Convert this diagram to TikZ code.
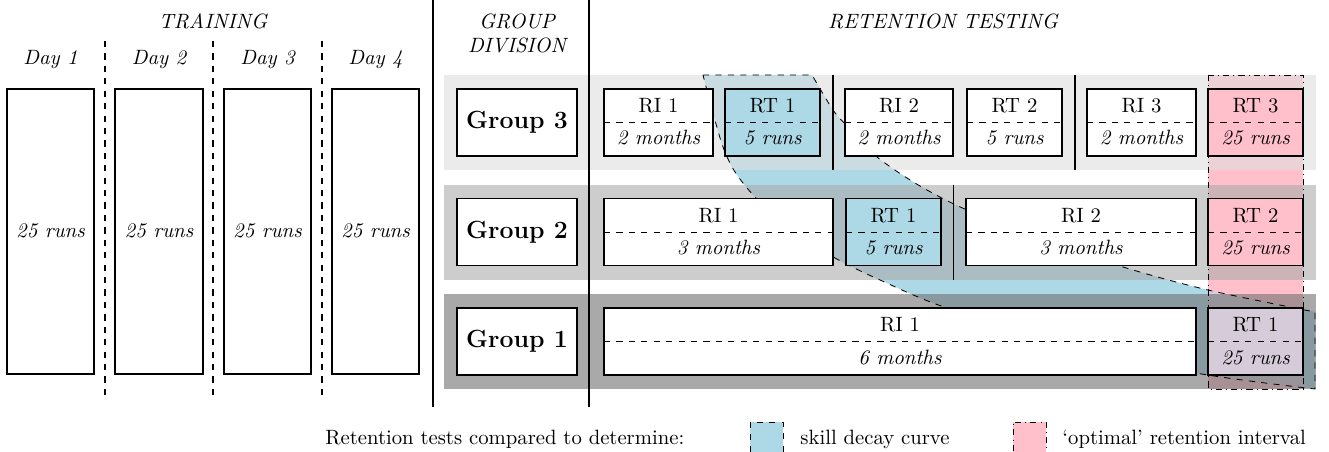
\documentclass[tikz,border=0pt]{standalone}
\usetikzlibrary{fit,calc}
\definecolor{lblue}{RGB}{173,216,230}
\definecolor{lpink}{RGB}{255,192,203}
\colorlet{lmix}{lpink!50!lblue}
\colorlet{bandthree}{black!13}
\colorlet{bandtwo}{black!33}
\colorlet{bandone}{black!56}
\tikzset{
  box/.style={draw, line width=0.8pt, inner sep=0pt, outer sep=0pt},
  lbl/.style={anchor=base, inner sep=0pt},
  lblw/.style={anchor=base west, inner sep=0pt},
  bandfill/.style={fill opacity=0.6},
  rowsep/.style={line width=0.6pt},
  bigsep/.style={line width=1.2pt},
  daysep/.style={dashed, line width=0.8pt},
  midline/.style={dashed, line width=0.4pt},
  decayline/.style={dashed, line width=0.4pt},
  optline/.style={dashdotted, line width=0.4pt},
}
\newcommand{\twobox}[8]{%
  \coordinate (#1-a) at (#2,#3);
  \coordinate (#1-b) at (#4,#5);
  \node[box, fill=#6, fit=(#1-a)(#1-b)] (#1) {};
  \draw[midline] (#1.west) -- (#1.east);
  \node[lbl] (#1-top) at ($(#1.north)+(0,23.5)$) {#7};
  \node[lbl] (#1-bot) at ($(#1.north)+(0,56)$) {\itshape #8};
}
\begin{document}
\begin{tikzpicture}[x=0.483pt, y=-0.483pt]
\useasboundingbox (0,0) rectangle (1329,452);

% coloured regions
\fill[lblue] (703,75) -- plot[smooth] coordinates {(812,75) (833,110) (848,127) (877,157) (920,186) (967,210) (1045,240) (1123,267) (1208,290) (1315,312)}
  -- plot[smooth] coordinates {(1315,389) (1196,373) (1070,343) (947,308) (880,280) (835,258) (790,230) (755,197) (735,172) (723,147) (713,113) (703,75)} -- cycle;
\fill[lpink] (1208,75) rectangle (1303,389);
\begin{scope}
\clip (703,75) -- plot[smooth] coordinates {(812,75) (833,110) (848,127) (877,157) (920,186) (967,210) (1045,240) (1123,267) (1208,290) (1315,312)}
  -- plot[smooth] coordinates {(1315,389) (1196,373) (1070,343) (947,308) (880,280) (835,258) (790,230) (755,197) (735,172) (723,147) (713,113) (703,75)} -- cycle;
\fill[lmix] (1208,75) rectangle (1303,389);
\end{scope}

% group bands
\fill[bandthree, bandfill] (444,75) rectangle (1316,170);
\fill[bandtwo, bandfill] (444,184.5) rectangle (1316,279.5);
\fill[bandone, bandfill] (444,294) rectangle (1316,389);

% outlines of regions
\draw[decayline] (703,75) -- plot[smooth] coordinates {(812,75) (833,110) (848,127) (877,157) (920,186) (967,210) (1045,240) (1123,267) (1208,290) (1315,312)}
  -- plot[smooth] coordinates {(1315,389) (1196,373) (1070,343) (947,308) (880,280) (835,258) (790,230) (755,197) (735,172) (723,147) (713,113) (703,75)} -- cycle;
\draw[optline] (1208,75) rectangle (1303,389);

% separators
\draw[bigsep] (433,0) -- (433,407);
\draw[bigsep] (589,0) -- (589,407);
\foreach \x in {105,213,322} \draw[daysep] (\x,41) -- (\x,398);
\draw[rowsep] (833,75) -- (833,170);
\draw[rowsep] (1075,75) -- (1075,170);
\draw[rowsep] (953.5,184.5) -- (953.5,279.5);

% headings
\node[lbl] (htrain) at (213,29) {\itshape TRAINING};
\node[lbl] (hday1) at (50.5,65) {\itshape Day 1};
\node[lbl] (hday2) at (159,65) {\itshape Day 2};
\node[lbl] (hday3) at (267.5,65) {\itshape Day 3};
\node[lbl] (hday4) at (375.5,65) {\itshape Day 4};
\node[lbl] (hgroup) at (517,29) {\itshape GROUP};
\node[lbl] (hdiv) at (517,53) {\itshape DIVISION};
\node[lbl] (hret) at (943,29) {\itshape RETENTION TESTING};

% training boxes
\foreach \n/\xa/\xb in {d1/7/94, d2/115/203, d3/224/311, d4/332/419} {
  \coordinate (\n-a) at (\xa,89);
  \coordinate (\n-b) at (\xb,374);
  \node[box, fill=white, fit=(\n-a)(\n-b)] (\n) {};
  \node[lbl] (\n-t) at ($(\n.north)+(0,148)$) {\itshape 25 runs};
}

% group boxes
\foreach \n/\ya/\yb/\g in {g3/89/156/3, g2/198.5/265.5/2, g1/308/375/1} {
  \coordinate (\n-a) at (457,\ya);
  \coordinate (\n-b) at (577,\yb);
  \node[box, fill=white, fit=(\n-a)(\n-b)] (\n) {};
  \node[lbl, font=\large\bfseries] (\n-t) at ($(\n.north)+(0,39.5)$) {Group \g};
}

% retention boxes
\twobox{rta}{604}{89}{713}{156}{white}{RI 1}{2 months}
\twobox{rtb}{725}{89}{820}{156}{lblue}{RT 1}{5 runs}
\twobox{rtc}{845}{89}{953}{156}{white}{RI 2}{2 months}
\twobox{rtd}{967}{89}{1062}{156}{white}{RT 2}{5 runs}
\twobox{rte}{1087}{89}{1196}{156}{white}{RI 3}{2 months}
\twobox{rtf}{1208}{89}{1303}{156}{lpink}{RT 3}{25 runs}
\twobox{rsa}{604}{198.5}{833}{265.5}{white}{RI 1}{3 months}
\twobox{rsb}{846}{198.5}{941}{265.5}{lblue}{RT 1}{5 runs}
\twobox{rsc}{966}{198.5}{1196}{265.5}{white}{RI 2}{3 months}
\twobox{rsd}{1208}{198.5}{1303}{265.5}{lpink}{RT 2}{25 runs}
\twobox{roa}{604}{308}{1196}{375}{white}{RI 1}{6 months}
\twobox{rob}{1208}{308}{1303}{375}{lmix}{RT 1}{25 runs}

% legend
\node[lblw] (legtxt) at (325,444) {Retention tests compared to determine:};
\coordinate (lb-a) at (750,422);
\coordinate (lb-b) at (783,456);
\node[box, line width=0.4pt, dashed, fill=lblue, fit=(lb-a)(lb-b)] (legblue) {};
\node[lblw] (legbluetxt) at (800,444) {skill decay curve};
\coordinate (lp-a) at (1013,422);
\coordinate (lp-b) at (1046,456);
\node[box, line width=0.4pt, dashdotted, fill=lpink, fit=(lp-a)(lp-b)] (legpink) {};
\node[lblw] (legpinktxt) at (1062,444) {`optimal' retention interval};
\end{tikzpicture}
\end{document}
